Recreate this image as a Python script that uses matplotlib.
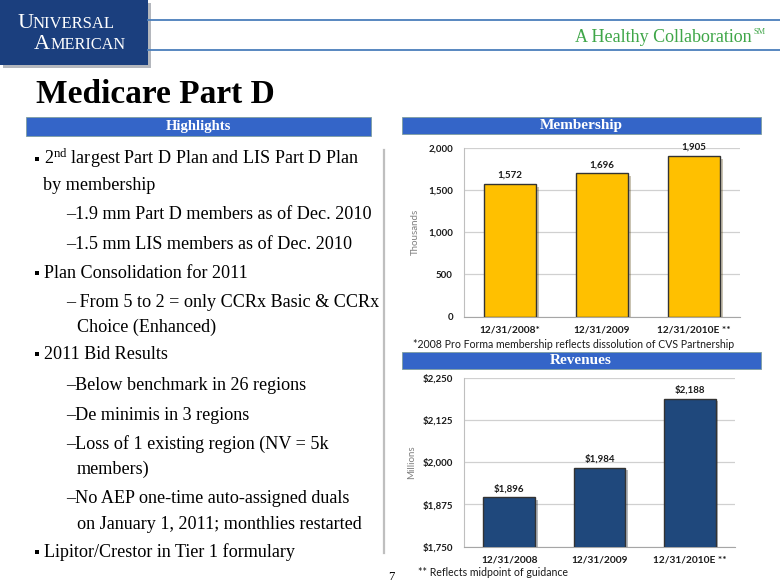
import matplotlib
matplotlib.use("Agg")
import matplotlib.pyplot as plt
from matplotlib.patches import Rectangle
from matplotlib.lines import Line2D
import matplotlib.patheffects as pe
from matplotlib.ticker import FuncFormatter

plt.rcParams['mathtext.fontset'] = 'custom'
plt.rcParams['mathtext.rm'] = 'Liberation Serif'
plt.rcParams['mathtext.it'] = 'Liberation Serif:italic'
plt.rcParams['mathtext.bf'] = 'Liberation Serif:bold'

# ---------------- data ----------------
member_cats = ['12/31/2008*', '12/31/2009', '12/31/2010E **']
member_vals = [1572, 1696, 1905]
member_ticks = [0, 500, 1000, 1500, 2000]

revenue_cats = ['12/31/2008', '12/31/2009', '12/31/2010E **']
revenue_vals = [1896, 1984, 2188]
revenue_ticks = [1750, 1875, 2000, 2125, 2250]

bullets = [
    (0, "2$^{\\mathrm{nd}}$ largest Part D Plan and LIS Part D Plan"),
    (0.5, "by membership"),
    (1, "\u20131.9 mm Part D members as of Dec. 2010"),
    (1, "\u20131.5 mm LIS members as of Dec. 2010"),
    (0, "Plan Consolidation for 2011"),
    (1, "\u2013 From 5 to 2 = only CCRx Basic & CCRx"),
    (1.5, "Choice (Enhanced)"),
    (0, "2011 Bid Results"),
    (1, "\u2013Below benchmark in 26 regions"),
    (1, "\u2013De minimis in 3 regions"),
    (1, "\u2013Loss of 1 existing region (NV = 5k"),
    (1.5, "members)"),
    (1, "\u2013No AEP one-time auto-assigned duals"),
    (1.5, "on January 1, 2011; monthlies restarted"),
    (0, "Lipitor/Crestor in Tier 1 formulary"),
]
bullet_baselines = [164, 190, 219, 249, 278, 307, 332, 359, 390, 420, 449, 474, 503, 529, 557]

W, H = 780, 585
fig = plt.figure(figsize=(7.8, 5.85), dpi=100)
fig.patch.set_facecolor('white')

def fx(x):
    return x / W

def fy(y):
    return 1 - y / H

def rect(x0, y0, x1, y1, **kw):
    fig.add_artist(Rectangle((fx(x0), fy(y1)), fx(x1) - fx(x0), fy(y0) - fy(y1),
                             transform=fig.transFigure, **kw))

# ---------------- header ----------------
rect(0, 0, 148, 65, facecolor='#1B3F7E', edgecolor='none', zorder=2,
     path_effects=[pe.SimplePatchShadow(offset=(2, -2), alpha=0.3), pe.Normal()])
serif = 'Liberation Serif'
fig.text(fx(17), fy(28), 'U', color='white', family=serif, fontsize=16, va='baseline', zorder=3)
fig.text(fx(33), fy(28), 'NIVERSAL', color='white', family=serif, fontsize=12, va='baseline', zorder=3)
fig.text(fx(34), fy(49), 'A', color='white', family=serif, fontsize=16, va='baseline', zorder=3)
fig.text(fx(50), fy(49), 'MERICAN', color='white', family=serif, fontsize=11.7, va='baseline', zorder=3)

for yy in (20, 50):
    fig.add_artist(Line2D([fx(148), 1], [fy(yy), fy(yy)], color='#4A7EBB', lw=1.3,
                          transform=fig.transFigure))

fig.text(fx(752), fy(42), 'A Healthy Collaboration', color='#3FA648',
         family=serif, fontsize=13, ha='right', va='baseline')
fig.text(fx(753), fy(34), 'SM', color='#3FA648', family=serif, fontsize=6,
         ha='left', va='baseline')

fig.text(fx(36), fy(103), 'Medicare Part D', color='black', family=serif,
         fontweight='bold', fontsize=24, va='baseline')

# section header bars
hdr_color = '#3465C8'
rect(26, 117, 371, 136, facecolor=hdr_color, edgecolor='#7F9F9F', lw=0.6)
fig.text(fx(198), fy(126.5), 'Highlights', color='white', family=serif, fontweight='bold',
         fontsize=10.5, ha='center', va='center')
rect(402, 117, 761, 134, facecolor=hdr_color, edgecolor='#7F9F9F', lw=0.6)
fig.text(fx(581), fy(125.5), 'Membership', color='white', family=serif, fontweight='bold',
         fontsize=11, ha='center', va='center')
rect(402, 352, 761, 369, facecolor=hdr_color, edgecolor='#7F9F9F', lw=0.6)
fig.text(fx(581), fy(360.5), 'Revenues', color='white', family=serif, fontweight='bold',
         fontsize=11, ha='center', va='center')

# vertical divider
fig.add_artist(Line2D([fx(384), fx(384)], [fy(150), fy(553)], color='#BFBFBF', lw=1.6,
                      transform=fig.transFigure))

# ---------------- bullets ----------------
indent_x = {0: 44, 0.5: 43, 1: 66, 1.5: 77}
for (lvl, txt), base in zip(bullets, bullet_baselines):
    if lvl == 0:
        fig.add_artist(Rectangle((fx(35), fy(base - 3)), 4 / W, 4 / H, transform=fig.transFigure,
                                 facecolor='black', edgecolor='none'))
    fig.text(fx(indent_x[lvl]), fy(base), txt, color='black', family=serif,
             fontsize=13.1, va='baseline')

fig.text(fx(388), fy(580), '7', color='black', family=serif, fontsize=9, va='baseline')

# ---------------- charts ----------------
sans = 'Lato'

def make_chart(rect_px, cats, vals, ticks, color, fmt, ylabel, ylab_x):
    x0, y0, x1, y1 = rect_px
    ax = fig.add_axes([fx(x0), fy(y1), fx(x1) - fx(x0), fy(y0) - fy(y1)])
    pos = list(range(len(cats)))
    bars = ax.bar(pos, vals, width=0.57, color=color, edgecolor='#333333', linewidth=1.0,
                  zorder=3)
    for b in bars:
        b.set_path_effects([pe.SimplePatchShadow(offset=(2, -2), alpha=0.3), pe.Normal()])
    ax.set_xlim(-0.5, len(cats) - 0.5)
    ax.set_ylim(ticks[0], ticks[-1])
    ax.set_yticks(ticks)
    ax.yaxis.set_major_formatter(FuncFormatter(fmt))
    ax.set_xticks(pos)
    ax.set_xticklabels(cats)
    ax.grid(axis='y', color='#D0D0D0', lw=0.9, zorder=0)
    for s in ('top', 'right'):
        ax.spines[s].set_visible(False)
    ax.spines['left'].set_color('#BFBFBF')
    ax.spines['bottom'].set_color('#A6A6A6')
    ax.tick_params(axis='y', length=0, pad=8, labelsize=7, labelcolor='#1A1A1A')
    ax.tick_params(axis='x', length=0, pad=6, labelsize=7.3, labelcolor='#1A1A1A')
    for lab in ax.get_yticklabels() + ax.get_xticklabels():
        lab.set_family(sans)
        lab.set_fontweight('bold')
    ax.set_ylabel(ylabel, family=sans, fontsize=7, color='#7F7F7F')
    ax.yaxis.set_label_coords(ylab_x, 0.5)
    for p, v in zip(pos, vals):
        ax.annotate(fmt(v, None), (p, v), xytext=(0, 3), textcoords='offset points',
                    ha='center', va='bottom', family=sans, fontweight='bold', fontsize=7,
                    color='#1A1A1A')
    ax.set_facecolor('white')
    return ax

make_chart((464, 147.7, 740, 316.7), member_cats, member_vals, member_ticks, '#FFC000',
           lambda v, p: f'{int(v):,}', 'Thousands', -0.16)
fig.text(fx(574), fy(348), '*2008 Pro Forma membership reflects dissolution of CVS Partnership',
         family=sans, fontsize=7.6, ha='center', va='baseline', color='#1A1A1A')

make_chart((464, 377.7, 735, 546.7), revenue_cats, revenue_vals, revenue_ticks, '#1F487C',
           lambda v, p: f'${int(v):,}', 'Millions', -0.175)
fig.text(fx(418), fy(576), '** Reflects midpoint of guidance',
         family=sans, fontsize=7.6, ha='left', va='baseline', color='#1A1A1A')

fig.savefig('out.png', dpi=100)
